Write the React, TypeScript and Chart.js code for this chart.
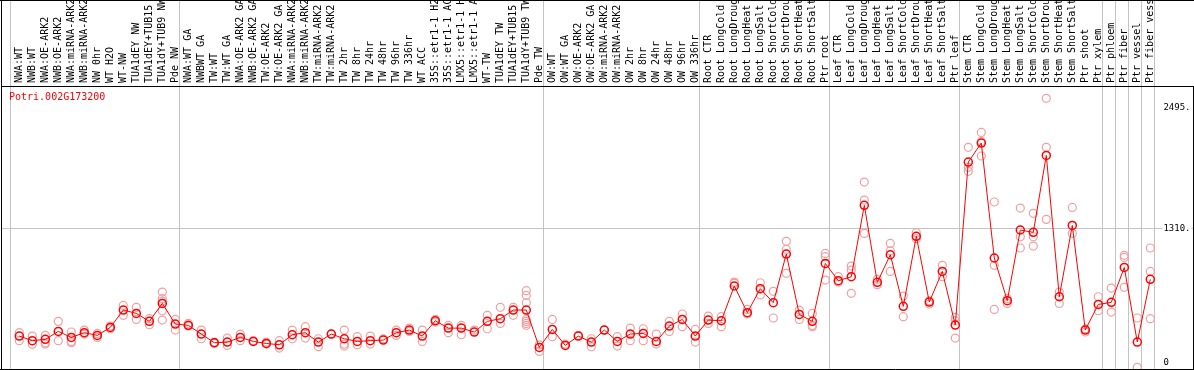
import { useEffect, useRef } from 'react';
import { Chart, registerables } from 'chart.js';

Chart.register(...registerables);

const title = 'Potri.002G173200';

const categories = [
  'NWA:WT', 'NWB:WT', 'NWA:OE-ARK2', 'NWB:OE-ARK2', 'NWA:miRNA-ARK2', 'NWB:miRNA-ARK2', 'NW 0hr', 'WT H2O', 'WT-NW',
  'TUA1dEY NW', 'TUA1dEY+TUB15', 'TUA1dY+TUB9 NW', 'Pde NW',
  'NWA:WT GA', 'NWBWT GA', 'TW:WT', 'TW:WT GA', 'NWA:OE-ARK2 GA', 'NWB:OE-ARK2 GA', 'TW:OE-ARK2', 'TW:OE-ARK2 GA',
  'NWA:miRNA-ARK2 GA', 'NWB:miRNA-ARK2 GA', 'TW:miRNA-ARK2', 'TW:miRNA-ARK2', 'TW 2hr', 'TW 8hr', 'TW 24hr', 'TW 48hr',
  'TW 96hr', 'TW 336hr', 'WT ACC', '35S::etr1-1 H2O', '35S::etr1-1 ACC', 'LMX5::etr1-1 H2O', 'LMX5::etr1-1 ACC',
  'WT-TW', 'TUA1dEY TW', 'TUA1dEY+TUB15', 'TUA1dY+TUB9 TW', 'Pde TW',
  'OW:WT', 'OW:WT GA', 'OW:OE-ARK2', 'OW:OE-ARK2 GA', 'OW:miRNA-ARK2', 'OW:miRNA-ARK2', 'OW 2hr', 'OW 8hr', 'OW 24hr',
  'OW 48hr', 'OW 96hr', 'OW 336hr',
  'Root CTR', 'Root LongCold', 'Root LongDrought', 'Root LongHeat', 'Root LongSalt', 'Root ShortCold',
  'Root ShortDrought', 'Root ShortHeat', 'Root ShortSalt', 'Ptr root',
  'Leaf CTR', 'Leaf LongCold', 'Leaf LongDrought', 'Leaf LongHeat', 'Leaf LongSalt', 'Leaf ShortCold',
  'Leaf ShortDrought', 'Leaf ShortHeat', 'Leaf ShortSalt', 'Ptr leaf',
  'Stem CTR', 'Stem LongCold', 'Stem LongDrought', 'Stem LongHeat', 'Stem LongSalt', 'Stem ShortCold',
  'Stem ShortDrought', 'Stem ShortHeat', 'Stem ShortSalt', 'Ptr shoot', 'Ptr xylem',
  'Ptr phloem', 'Ptr fiber', 'Ptr vessel', 'Ptr fiber vessel',
];

const means = [
  256, 211, 224, 302, 243, 289, 263, 341, 511, 478, 400, 576, 374,
  361, 276, 191, 197, 243, 204, 184, 171, 269, 289, 197, 276, 230, 204, 211, 217, 289, 315, 256, 406, 334, 334, 295,
  400, 426, 511, 511, 145,
  321, 165, 256, 197, 315, 204, 276, 282, 204, 354, 419, 256,
  413, 406, 746, 485, 720, 583, 1059, 468, 400, 967,
  798, 837, 1535, 782, 1052, 547, 1232, 589, 889, 364,
  1959, 2145, 1020, 602, 1294, 1271, 2024, 641, 1339, 315, 566,
  586, 928, 198, 811,
];

const replicates = [
  [289, 211], [256, 175], [263, 191, 178], [400, 211], [296, 204, 191], [315, 276], [282, 243], [354, 328],
  [556, 459], [537, 419], [426, 367], [687, 622, 596, 504, 413], [419, 315],
  [380, 354], [315, 230], [197, 184], [237, 165], [276, 211], [211], [197, 178], [211, 139], [315, 230], [348, 237],
  [230, 152], [276], [315, 178, 158], [250, 171], [256, 178], [230], [315, 263], [334, 302], [315, 204], [419, 393],
  [360, 289], [360, 269], [315], [459, 328], [537, 380], [537, 459], [700, 654, 582, 419, 400, 380, 361], [171, 106],
  [419, 250], [178], [263], [230, 152], [315], [250, 158], [334, 211], [328, 211], [276, 178], [400, 302], [472, 348],
  [321, 197],
  [452, 380], [446, 348], [785, 772], [517, 472], [778, 659], [694, 433], [1183, 1104, 870], [511, 419],
  [478, 360, 348], [1065, 1033, 804],
  [837, 785], [941, 902, 674], [1763, 1587, 1261], [811, 759], [1163, 1091, 889], [648, 446], [1268, 1209],
  [602, 570], [948, 837], [439, 406, 237],
  [2103, 1907, 1868], [2249, 2161, 2018], [1568, 948, 517], [622, 576], [1509, 1228, 1118], [1457, 1228, 1137],
  [2582, 2103, 1398], [687, 576], [1515, 1261], [328, 296], [641, 504],
  [726, 491], [1046, 1026, 733], [433, -50], [1118, 889, 426],
];

// group separators (in category-index units)
const separators = [-0.66, 12.34, 40.34, 52.34, 62.34, 72.34, 83.34, 84.34, 85.34, 86.34, 87.34];
const yTickValues = [0, 1310, 2495];
const yTickLabels = ['0', '1310.', '2495.'];

const MONO = '"DejaVu Sans Mono", "Liberation Mono", monospace';
const GRID = '#c4c4c4';
const CLEAR = 'rgba(0,0,0,0)';

export default function App() {
  const ref = useRef<HTMLCanvasElement>(null);

  useEffect(() => {
    const canvas = ref.current;
    if (!canvas) return;
    const repPoints = replicates.flatMap((arr, i) => arr.map((v) => ({ x: i, y: v })));
    const meanPoints = means.map((v, i) => ({ x: i, y: v }));
    const isSep = (v: number) => separators.some((s) => Math.abs(s - v) < 1e-6);

    const framePlugin = {
      id: 'frame',
      afterDraw(chart: any) {
        const { ctx, width, height } = chart;
        ctx.save();
        ctx.strokeStyle = '#000';
        ctx.lineWidth = 1;
        ctx.beginPath();
        ctx.moveTo(1.5, 0);
        ctx.lineTo(1.5, height);
        ctx.moveTo(0, 0.5);
        ctx.lineTo(width, 0.5);
        ctx.moveTo(0, chart.chartArea.bottom + 0.5);
        ctx.lineTo(width, chart.chartArea.bottom + 0.5);
        ctx.stroke();
        ctx.fillStyle = '#ff0000';
        ctx.font = `10px ${MONO}`;
        ctx.textBaseline = 'middle';
        ctx.textAlign = 'left';
        ctx.fillText(title, 9, 97);
        ctx.restore();
      },
    };

    const chart = new Chart(canvas, {
      type: 'scatter',
      data: {
        datasets: [
          {
            data: meanPoints,
            showLine: true,
            borderColor: '#ff0000',
            borderWidth: 1,
            pointRadius: 4,
            pointBorderColor: '#ff0000',
            pointBackgroundColor: CLEAR,
            pointBorderWidth: 1.5,
            order: 0,
          },
          {
            data: repPoints,
            showLine: false,
            pointRadius: 4,
            pointBorderColor: '#f0a0a0',
            pointBackgroundColor: CLEAR,
            pointBorderWidth: 1.2,
            order: 1,
          },
        ],
      },
      options: {
        animation: false,
        responsive: false,
        devicePixelRatio: 1,
        layout: { autoPadding: false, padding: { left: 2, right: 1, top: 0, bottom: 1 } },
        plugins: { legend: { display: false }, tooltip: { enabled: false } },
        scales: {
          x: {
            type: 'linear',
            position: 'top',
            min: -1.331,
            max: 90.285,
            afterBuildTicks: (s: any) => {
              const vals = [...categories.map((_, i) => i), ...separators].sort((a, b) => a - b);
              s.ticks = vals.map((v) => ({ value: v }));
            },
            afterFit: (s: any) => {
              s.height = 86;
              s.paddingLeft = 0;
              s.paddingRight = 0;
            },
            grid: {
              color: (c: any) => (c.tick && isSep(c.tick.value) ? GRID : CLEAR),
              tickLength: 86,
              lineWidth: 1,
            },
            border: { display: true, color: '#000', width: 1 },
            ticks: {
              autoSkip: false,
              minRotation: 90,
              maxRotation: 90,
              padding: -83,
              labelOffset: 1.5,
              color: '#000',
              font: { family: MONO, size: 10, lineHeight: '1px' },
              callback: (v: any) => (Number.isInteger(v) ? categories[v] : ''),
            },
          },
          y: {
            type: 'linear',
            position: 'right',
            min: -66,
            max: 2703,
            afterBuildTicks: (s: any) => {
              s.ticks = yTickValues.map((v) => ({ value: v }));
            },
            afterFit: (s: any) => {
              s.width = 0;
              s.paddingTop = 0;
              s.paddingBottom = 0;
            },
            grid: {
              color: (c: any) => (c.tick && c.tick.value === 1310 ? GRID : CLEAR),
              drawTicks: false,
              lineWidth: 1,
            },
            border: { display: true, color: '#000', width: 1 },
            ticks: {
              mirror: true,
              crossAlign: 'far',
              padding: -2.5,
              color: '#000',
              showLabelBackdrop: true,
              backdropColor: '#fff',
              backdropPadding: 1,
              font: { family: MONO, size: 9 },
              callback: (v: any) => {
                const k = yTickValues.indexOf(v);
                return k >= 0 ? yTickLabels[k] : '';
              },
            },
          },
        },
      },
      plugins: [framePlugin],
    } as any);

    return () => chart.destroy();
  }, []);

  return (
    <div style={{ position: 'fixed', left: 0, top: 0, width: 1194, height: 370, background: '#fff' }}>
      <canvas ref={ref} width={1194} height={370} style={{ display: 'block', width: 1194, height: 370 }} />
    </div>
  );
}
